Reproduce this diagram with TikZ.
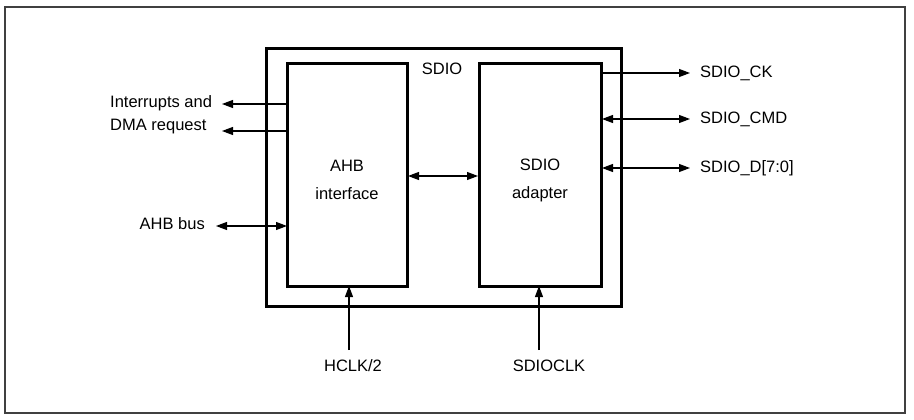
\documentclass[tikz,border=0pt]{standalone}
\usepackage{fontspec}
\setmainfont{Liberation Sans}
\usetikzlibrary{arrows.meta}
\begin{document}
\begin{tikzpicture}[x=1pt,y=-1pt,
  blk/.style={draw,line width=3pt},
  sig/.style={line width=1.1pt,-{Triangle[length=11pt,width=8pt]}},
  bsig/.style={line width=1.1pt,{Triangle[length=11pt,width=8pt]}-{Triangle[length=11pt,width=8pt]}},
  lbl/.style={inner sep=0pt,font=\fontsize{16.5}{20}\selectfont},
  every node/.style={lbl}]
\useasboundingbox (0,0) rectangle (914,420);
\draw[line width=1.6pt,draw=black!75] (5,7) rectangle (905,413);
% outer SDIO box
\draw[blk] (266,49) rectangle (621,306);
\node (sdio) at (442,69) {SDIO};
% inner blocks
\draw[blk] (287,64) rectangle (407,286);
\coordinate (ahbW) at (287,0);
\draw[blk] (479,64) rectangle (601,286);
\node[align=center] (ahb) at (347,180) {AHB\\[8pt]interface};
\node[align=center] (ada) at (540,180) {SDIO\\[8pt]adapter};
% left signals
\node[anchor=west] (irq) at (110,103) {Interrupts and};
\node[anchor=west] (dma) at (110,127) {DMA request};
\node[anchor=east] (ahbbus) at (205,224) {AHB bus};
\coordinate (irqS) at (287,104);
\coordinate (irqE) at (222,104);
\coordinate (dmaS) at (287,131);
\coordinate (dmaE) at (222,131);
\coordinate (busE) at (216,226);
\coordinate (busS) at (287,226);
\draw[sig] (irqS) -- (irqE);
\draw[sig] (dmaS) -- (dmaE);
\draw[bsig] (busE) -- (busS);
% middle
\coordinate (mL) at (408,176);
\coordinate (mR) at (478,176);
\draw[bsig] (mL) -- (mR);
% right signals
\node[anchor=west] (ck) at (700,73) {SDIO\_CK};
\node[anchor=west] (cmd) at (700,119) {SDIO\_CMD};
\node[anchor=west] (dat) at (700,168) {SDIO\_D[7:0]};
\coordinate (ckS) at (601,73);
\coordinate (cmdS) at (602,119);
\coordinate (datS) at (602,168);
\draw[sig] (ckS) -- (ck.west -| 690,0);
\draw[bsig] (cmdS) -- (cmd.west -| 690,0);
\draw[bsig] (datS) -- (dat.west -| 690,0);
% clocks
\node (hclk) at (353,366) {HCLK/2};
\node (sdclk) at (549,366) {SDIOCLK};
\coordinate (hclkT) at (349,286);
\coordinate (sdclkT) at (539,286);
\draw[sig] (349,350) -- (hclkT);
\draw[sig] (539,350) -- (sdclkT);
\end{tikzpicture}
\end{document}
